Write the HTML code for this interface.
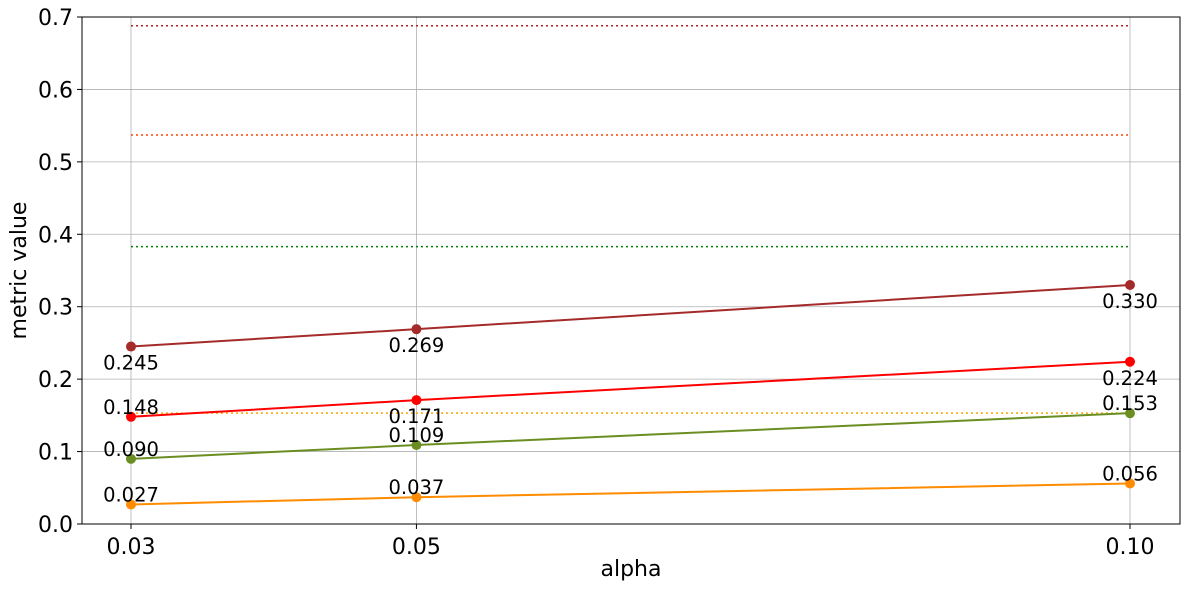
<!DOCTYPE html>
<html><head><meta charset="utf-8"><style>
body{margin:0;background:#fff;}
svg{display:block;font-family:"DejaVu Sans","Liberation Sans",sans-serif;}
</style></head><body>
<svg id="chart" width="1189" height="589"></svg>
<script>
const categories=[0.03,0.05,0.10];
const seriesNames=["brown","red","olive","orange"];
const seriesColors=["#a52a2a","#ff0000","#6b8e23","#ff8c00"];
const brownVals=[0.245,0.269,0.330];
const redVals=[0.148,0.171,0.224];
const oliveVals=[0.090,0.109,0.153];
const orangeVals=[0.027,0.037,0.056];
const labelAbove=[[false,false,false],[true,false,false],[true,true,true],[true,true,true]];
const refVals=[0.688,0.537,0.383,0.153];
const refColors=["#b22222","#ff4500","#008000","#ffa500"];
const yTicks=[0,0.1,0.2,0.3,0.4,0.5,0.6,0.7];
const yTickLabels=["0.0","0.1","0.2","0.3","0.4","0.5","0.6","0.7"];
const xTickLabels=["0.03","0.05","0.10"];

const NS="http://www.w3.org/2000/svg";
const svg=document.getElementById('chart');
const L=82,R=1180,T=17,B=524;
const X0=131,X1=1130;
const xs=v=>X0+(v-0.03)/(0.10-0.03)*(X1-X0);
const ys=v=>B-(v/0.7)*(B-T);
function mk(tag,attrs,parent){const e=document.createElementNS(NS,tag);for(const k in attrs)e.setAttribute(k,attrs[k]);(parent||svg).appendChild(e);return e;}

yTicks.forEach((t,i)=>{
  const g=mk('line',{x1:L,x2:R,y1:ys(t),y2:ys(t),stroke:'#b0b0b0','stroke-width':0.8});
  
  
  mk('line',{x1:L-5,x2:L,y1:ys(t),y2:ys(t),stroke:'#000'});
  const tx=mk('text',{x:L-9,y:ys(t)+8,'text-anchor':'end','font-size':22});
  tx.textContent=yTickLabels[i];
  
  
});
categories.forEach((c,i)=>{
  const g=mk('line',{x1:xs(c),x2:xs(c),y1:T,y2:B,stroke:'#b0b0b0','stroke-width':0.8});
  
  
  mk('line',{x1:xs(c),x2:xs(c),y1:B,y2:B+5,stroke:'#000'});
  const tx=mk('text',{x:xs(c),y:B+30,'text-anchor':'middle','font-size':22});
  tx.textContent=xTickLabels[i];
  
  
});
refVals.forEach((v,i)=>{
  const l=mk('line',{x1:X0,x2:X1,y1:ys(v),y2:ys(v),stroke:refColors[i],'stroke-width':1.5,'stroke-dasharray':'2,3'});
  
  
});
const allVals=[brownVals,redVals,oliveVals,orangeVals];
allVals.forEach((vals,s)=>{
  const p=mk('polyline',{points:vals.map((v,i)=>xs(categories[i])+','+ys(v)).join(' '),fill:'none',stroke:seriesColors[s],'stroke-width':2});
  
  
  vals.forEach((v,i)=>{
    const c=mk('circle',{cx:xs(categories[i]),cy:ys(v),r:5,fill:seriesColors[s]});
    
    
    const above=labelAbove[s][i];
    const t=mk('text',{x:xs(categories[i]),y:ys(v)+(above?-3:23),'text-anchor':'middle','font-size':19.5});
    t.textContent=v.toFixed(3);
    
    
  });
});
const f=mk('rect',{x:L,y:T,width:R-L,height:B-T,fill:'none',stroke:'#000','stroke-width':1});


const xt=mk('text',{x:(L+R)/2,y:576,'text-anchor':'middle','font-size':22});
xt.textContent='alpha';


const yt=mk('text',{x:26,y:(T+B)/2,'text-anchor':'middle','font-size':22,transform:'rotate(-90 26 '+((T+B)/2)+')'});
yt.textContent='metric value';


</script>
</body></html>
